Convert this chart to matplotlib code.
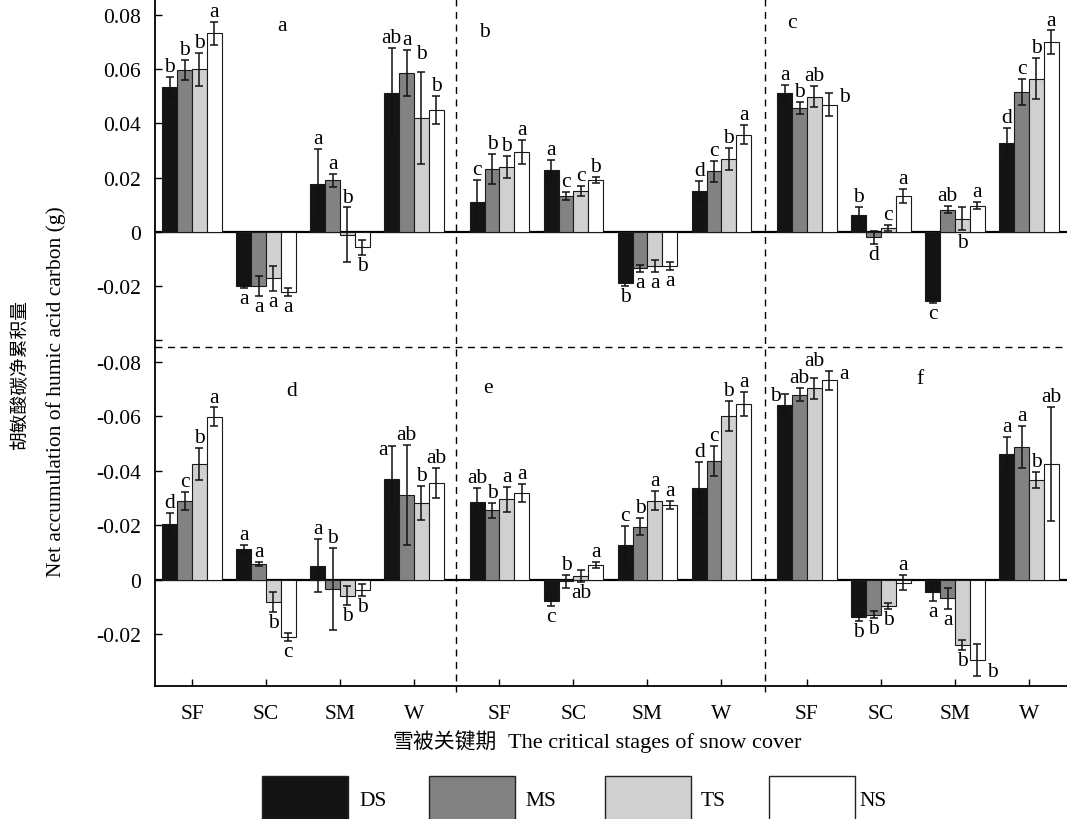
import numpy as np
import matplotlib.pyplot as plt
from matplotlib.lines import Line2D
from matplotlib.patches import Rectangle

# ---- data (g), rows = stages SF/SC/SM/W, cols = treatments DS/MS/TS/NS ----
STAGES = ["SF", "SC", "SM", "W"]
TREATMENTS = ["DS", "MS", "TS", "NS"]
PANEL_TAGS = ["a", "b", "c", "d", "e", "f"]

A_MEAN = [[0.0533, 0.0597, 0.0599, 0.0732],
          [-0.0200, -0.0200, -0.0171, -0.0222],
          [0.0177, 0.0190, -0.0011, -0.0056],
          [0.0511, 0.0585, 0.0419, 0.0449]]
A_SE = [[0.0039, 0.0038, 0.0061, 0.0042],
        [0.0007, 0.0036, 0.0045, 0.0015],
        [0.0129, 0.0025, 0.0101, 0.0028],
        [0.0166, 0.0085, 0.0170, 0.0053]]
A_LETTERS = [["b", "b", "b", "a"], ["a", "a", "a", "a"],
             ["a", "a", "b", "b"], ["ab", "a", "b", "b"]]

B_MEAN = [[0.0112, 0.0232, 0.0238, 0.0294],
          [0.0228, 0.0131, 0.0152, 0.0192],
          [-0.0188, -0.0134, -0.0124, -0.0126],
          [0.0151, 0.0224, 0.0268, 0.0358]]
B_SE = [[0.0080, 0.0055, 0.0040, 0.0043],
        [0.0037, 0.0015, 0.0018, 0.0012],
        [0.0012, 0.0012, 0.0022, 0.0015],
        [0.0038, 0.0039, 0.0041, 0.0036]]
B_LETTERS = [["c", "b", "b", "a"], ["a", "c", "c", "b"],
             ["b", "a", "a", "a"], ["d", "c", "b", "a"]]

C_MEAN = [[0.0513, 0.0458, 0.0498, 0.0469],
          [0.0064, -0.0020, 0.0014, 0.0133],
          [-0.0253, 0.0082, 0.0048, 0.0097],
          [0.0327, 0.0515, 0.0564, 0.0699]]
C_SE = [[0.0028, 0.0022, 0.0039, 0.0041],
        [0.0027, 0.0025, 0.0012, 0.0026],
        [0.0009, 0.0012, 0.0042, 0.0012],
        [0.0055, 0.0049, 0.0076, 0.0043]]
C_LETTERS = [["a", "b", "ab", "b"], ["b", "d", "c", "a"],
             ["c", "ab", "b", "a"], ["d", "c", "b", "a"]]

D_MEAN = [[0.0206, 0.0289, 0.0426, 0.0599],
          [0.0113, 0.0058, -0.0080, -0.0210],
          [0.0053, -0.0033, -0.0058, -0.0036],
          [0.0370, 0.0313, 0.0283, 0.0355]]
D_SE = [[0.0039, 0.0033, 0.0059, 0.0034],
        [0.0017, 0.0007, 0.0036, 0.0014],
        [0.0096, 0.0150, 0.0035, 0.0021],
        [0.0120, 0.0183, 0.0062, 0.0055]]
D_LETTERS = [["d", "c", "b", "a"], ["a", "a", "b", "c"],
             ["a", "b", "b", "b"], ["a", "ab", "b", "ab"]]

E_MEAN = [[0.0286, 0.0256, 0.0296, 0.0318],
          [-0.0076, -0.0005, 0.0014, 0.0055],
          [0.0128, 0.0196, 0.0291, 0.0276],
          [0.0338, 0.0436, 0.0601, 0.0645]]
E_SE = [[0.0050, 0.0027, 0.0047, 0.0033],
        [0.0018, 0.0023, 0.0022, 0.0010],
        [0.0069, 0.0030, 0.0035, 0.0015],
        [0.0094, 0.0055, 0.0056, 0.0044]]
E_LETTERS = [["ab", "b", "a", "a"], ["c", "b", "ab", "a"],
             ["c", "b", "a", "a"], ["d", "c", "b", "a"]]

F_MEAN = [[0.0643, 0.0680, 0.0703, 0.0733],
          [-0.0137, -0.0127, -0.0094, -0.0010],
          [-0.0045, -0.0067, -0.0239, -0.0294],
          [0.0462, 0.0487, 0.0368, 0.0426]]
F_SE = [[0.0039, 0.0024, 0.0037, 0.0035],
        [0.0012, 0.0013, 0.0011, 0.0028],
        [0.0031, 0.0039, 0.0018, 0.0058],
        [0.0061, 0.0077, 0.0030, 0.0209]]
F_LETTERS = [["b", "ab", "ab", "a"], ["b", "b", "b", "a"],
             ["a", "a", "b", "b"], ["a", "a", "b", "ab"]]

# letters that are not simply above (positive) / below (negative) the bar
# u/d = above/below, U = higher above, r/l = beside the bar
LETTER_SIDE = {
    ("a", 2, 2): "u", ("a", 3, 2): "U",
    ("c", 0, 3): "r", ("c", 2, 2): "d",
    ("d", 2, 1): "u", ("d", 3, 0): "l",
    ("e", 1, 1): "u", ("e", 1, 2): "d",
    ("f", 0, 0): "l", ("f", 0, 2): "U", ("f", 0, 3): "r", ("f", 1, 3): "u",
    ("f", 2, 3): "r",
}

TOP_TICKS = [-0.04, -0.02, 0, 0.02, 0.04, 0.06, 0.08]
TOP_TICKLABELS = ["", "-0.02", "0", "0.02", "0.04", "0.06", "0.08"]
BOTTOM_TICKS = [-0.02, 0, 0.02, 0.04, 0.06, 0.08]
BOTTOM_TICKLABELS = ["-0.02", "0", "-0.02", "-0.04", "-0.06", "-0.08"]

BAR_COLORS = ["#141414", "#828282", "#d0d0d0", "#ffffff"]

W_PX, H_PX = 1067, 820
SERIF = ["Liberation Serif", "DejaVu Serif"]
CJK = ["Noto Sans CJK SC", "DejaVu Sans"]
FS = 15.5
PANEL_STEP = 4.155
BAR_W = 0.2


def fx(px):
    return px / W_PX


def fy(py):
    return 1 - py / H_PX


def put_letter(ax, x, m, e, txt, side):
    kw = dict(fontsize=FS, family=SERIF, zorder=5)
    if side == "u":
        ax.text(x, max(m + e, 0) + 0.0022, txt, ha="center", va="baseline", **kw)
    elif side == "U":
        ax.text(x, max(m + e, 0) + 0.0050, txt, ha="center", va="baseline", **kw)
    elif side == "d":
        ax.text(x, min(m - e, 0) - 0.0004, txt, ha="center", va="top", **kw)
    elif side == "r":
        ax.text(x + 0.14, m + np.sign(m) * e * 0.7, txt, ha="left", va="center", **kw)
    else:
        ax.text(x - 0.05, m + e * 0.9, txt, ha="right", va="center", **kw)


def draw_panel(ax, p, tag, means, errs, letters):
    means = np.asarray(means)
    errs = np.asarray(errs)
    for t in range(len(TREATMENTS)):
        xs = p * PANEL_STEP + np.arange(len(STAGES)) + (t - 1.5) * BAR_W
        ax.bar(xs, means[:, t], width=BAR_W, color=BAR_COLORS[t],
               edgecolor="#1a1a1a", linewidth=0.8, zorder=2)
        ax.errorbar(xs, means[:, t], yerr=errs[:, t], fmt="none", ecolor="#111111",
                    elinewidth=1.1, capsize=3.2, capthick=1.1, zorder=3)
        for g in range(len(STAGES)):
            m, e = means[g, t], errs[g, t]
            side = LETTER_SIDE.get((tag, g, t), "u" if m >= 0 else "d")
            put_letter(ax, xs[g], m, e, letters[g][t], side)


fig = plt.figure(figsize=(W_PX / 100, H_PX / 100), dpi=100)

ax_top = fig.add_axes([fx(155), fy(348), fx(1067) - fx(155), fy(0) - fy(348)])
ax_bot = fig.add_axes([fx(155), fy(687), fx(1067) - fx(155), fy(348) - fy(687)])

top_sets = [(A_MEAN, A_SE, A_LETTERS), (B_MEAN, B_SE, B_LETTERS), (C_MEAN, C_SE, C_LETTERS)]
bot_sets = [(D_MEAN, D_SE, D_LETTERS), (E_MEAN, E_SE, E_LETTERS), (F_MEAN, F_SE, F_LETTERS)]
for p, (m, e, l) in enumerate(top_sets):
    draw_panel(ax_top, p, PANEL_TAGS[p], m, e, l)
for p, (m, e, l) in enumerate(bot_sets):
    draw_panel(ax_bot, p, PANEL_TAGS[p + 3], m, e, l)

# panel tags
tag_pos_top = [(1.22, 0.0759), (3.95, 0.0737), (8.11, 0.0770)]
tag_pos_bot = [(1.35, 0.0697), (4.00, 0.0705), (9.84, 0.0741)]
for (x, y), tag in zip(tag_pos_top, PANEL_TAGS[:3]):
    ax_top.text(x, y, tag, fontsize=FS, family=SERIF, ha="center", va="center")
for (x, y), tag in zip(tag_pos_bot, PANEL_TAGS[3:]):
    ax_bot.text(x, y, tag, fontsize=FS, family=SERIF, ha="center", va="center")

xlim = (-0.5, 11.824)
for ax in (ax_top, ax_bot):
    ax.set_xlim(*xlim)
    ax.axhline(0, color="black", linewidth=1.6, zorder=1)
    ax.set_facecolor("none")
    for s in ("top", "right"):
        ax.spines[s].set_visible(False)
    ax.spines["left"].set_linewidth(1.3)
    ax.tick_params(axis="y", direction="in", length=5, width=1.0, pad=10,
                   labelsize=FS)

ax_top.set_ylim(-0.0424, 0.0858)
ax_top.spines["bottom"].set_visible(False)
ax_top.set_yticks(TOP_TICKS)
ax_top.set_yticklabels(TOP_TICKLABELS, family=SERIF, fontsize=FS)
ax_top.set_xticks([])

ax_bot.set_ylim(-0.0389, 0.0855)
ax_bot.spines["bottom"].set_linewidth(1.3)
ax_bot.set_yticks(BOTTOM_TICKS)
ax_bot.set_yticklabels(BOTTOM_TICKLABELS, family=SERIF, fontsize=FS)
centers = [p * PANEL_STEP + g for p in range(3) for g in range(len(STAGES))]
ax_bot.set_xticks(centers)
ax_bot.set_xticklabels(STAGES * 3, family=SERIF, fontsize=FS)
ax_bot.tick_params(axis="x", direction="in", length=5, width=1.0, pad=13)

# dashed separators between panels
dash = (0, (5, 4))
fig.add_artist(Line2D([fx(155), fx(1067)], [fy(348), fy(348)], color="black",
                      linewidth=1.0, linestyle=dash, transform=fig.transFigure))
for sep_px in (456, 765):
    fig.add_artist(Line2D([fx(sep_px), fx(sep_px)], [fy(0), fy(693)], color="black",
                          linewidth=1.0, linestyle=dash, transform=fig.transFigure))

# axis titles
fig.text(fx(20), fy(374), "胡敏酸碳净累积量", rotation=90, family=CJK, fontsize=13.5,
         ha="center", va="center")
fig.text(fx(56), fy(392), "Net accumulation of humic acid carbon (g)", rotation=90,
         family=SERIF, fontsize=15.5, ha="center", va="center")
fig.text(fx(497), fy(743), "雪被关键期", family=CJK, fontsize=15, ha="right", va="center")
fig.text(fx(508), fy(743), "The critical stages of snow cover", family=SERIF,
         fontsize=16, ha="left", va="center")

# legend at the bottom (boxes run off the lower edge)
box_left_px = [262, 429, 605, 769]
text_gap_px = [11, 10, 10, 4]
for t, name in enumerate(TREATMENTS):
    x0 = box_left_px[t]
    fig.add_artist(Rectangle((fx(x0), fy(835)), fx(86), fy(777) - fy(835),
                             facecolor=BAR_COLORS[t], edgecolor="#222222",
                             linewidth=1.0, transform=fig.transFigure))
    fig.text(fx(x0 + 86 + text_gap_px[t]), fy(802), name, family=SERIF, fontsize=15.5,
             ha="left", va="center")

fig.savefig("out.png", dpi=100, facecolor="white")
